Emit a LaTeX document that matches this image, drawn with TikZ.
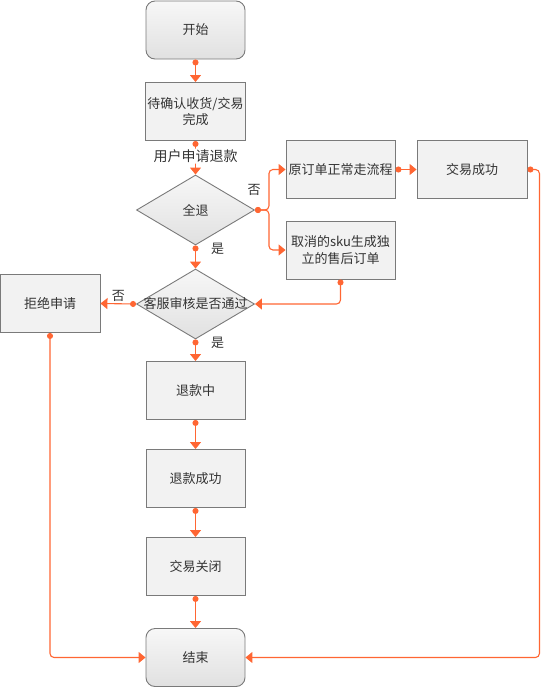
\documentclass[tikz,border=0pt]{standalone}
\usepackage{fontspec}
\setmainfont{Noto Sans CJK SC}
\usetikzlibrary{arrows.meta,shapes.geometric}
\definecolor{lineor}{HTML}{FF6633}
\definecolor{boxfill}{HTML}{F2F2F2}
\definecolor{boxline}{HTML}{7A7A7A}
\definecolor{txt}{HTML}{333333}
\begin{document}
\begin{tikzpicture}[x=1pt,y=-1pt,
  font=\fontsize{13}{16.5}\selectfont, text=txt,
  base/.style={draw=boxline, line width=0.9pt, minimum width=99pt, minimum height=58pt, inner sep=2pt, align=center},
  procbox/.style={base, fill=boxfill},
  termbox/.style={base, rounded corners=9pt, top color=HTML_F7, bottom color=HTML_E2},
  decbox/.style={draw=boxline, line width=0.9pt, diamond, minimum width=118pt, minimum height=70pt, inner sep=0pt, top color=HTML_F7, bottom color=HTML_E2},
  conn/.style={draw=lineor, line width=1.1pt, rounded corners=4pt, {Circle[length=6pt]}-{Triangle[width=11pt,length=7pt]}},
  lbl/.style={inner sep=1pt, text=txt}
]
\colorlet{HTML_F7}{white!97!black}
\colorlet{HTML_E2}{white!88!black}
\useasboundingbox (0,0) rectangle (541,688);

\node[termbox] (start) at (195.5,30) {开始};
\node[procbox] (wait) at (195.5,111.5) {待确认收货/交易\\完成};
\node[decbox] (full) at (195.5,210) {\makebox[0pt]{全退}};
\node[procbox, minimum width=109pt] (orig) at (340.5,169.5) {原订单正常走流程};
\node[procbox, minimum width=110pt] (succ) at (472,169.5) {交易成功};
\node[procbox, minimum width=109pt] (cancel) at (340.5,250) {取消的sku生成独\\立的售后订单};
\node[decbox] (audit) at (195.5,304) {\makebox[0pt]{客服审核是否通过}};
\node[procbox, minimum width=100pt] (reject) at (50,303.5) {拒绝申请};
\node[procbox] (refunding) at (195.5,390.5) {退款中};
\node[procbox] (refunded) at (195.5,478.5) {退款成功};
\node[procbox] (closed) at (195.5,566.5) {交易关闭};
\node[termbox] (end) at (195.5,657.5) {结束};

\draw[conn] (start) -- (wait);
\draw[conn] (wait) -- node[lbl, fill=white, pos=0.45, font=\fontsize{14}{16}\selectfont] (l1) {用户申请退款} (full);
\draw[conn] (full) -- node[lbl, pos=0.15, anchor=west, xshift=14pt] (l2) {是} (audit);
\draw[conn] (audit) -- node[lbl, pos=0.15, anchor=west, xshift=14pt] (l3) {是} (refunding);
\draw[conn] (refunding) -- (refunded);
\draw[conn] (refunded) -- (closed);
\draw[conn] (closed) -- (end);
\draw[conn] (full.east) -- ++(14,0) |- (orig.west);
\draw[conn] (full.east) -- ++(14,0) |- (cancel.west);
\node[lbl] (l4) at (254,190) {否};
\draw[conn] (cancel.south) |- (audit.east);
\draw[conn] (orig.east) -- (succ.west);
\draw[conn] (succ.east) -- ++(12,0) |- (end.east);
\draw[conn] (audit.west) -- node[lbl, above=1pt] (l5) {否} (reject.east);
\draw[conn] (reject.south) |- (end.west);
\end{tikzpicture}
\end{document}
